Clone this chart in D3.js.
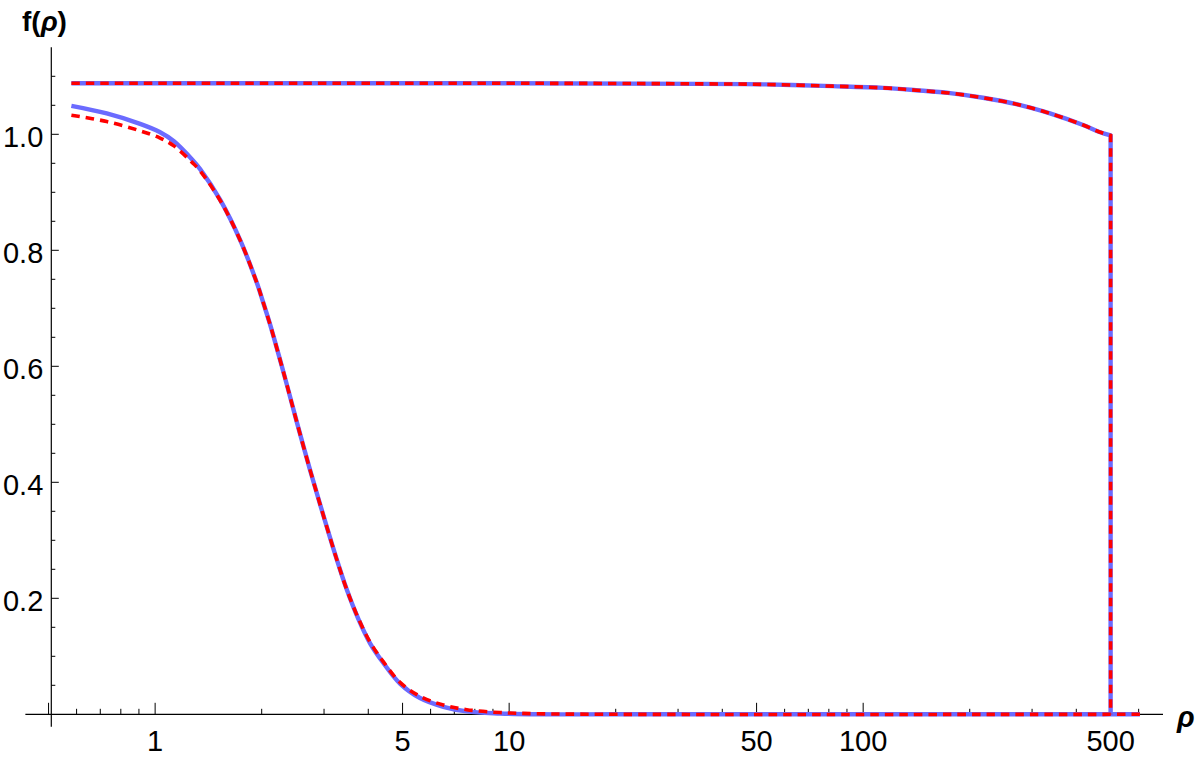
<!DOCTYPE html>
<html>
<head>
<meta charset="utf-8">
<script src="https://cdn.jsdelivr.net/npm/d3@7"></script>
<style>
  html, body { margin: 0; padding: 0; background: #fff; }
  svg { display: block; }
  text { font-family: "Liberation Sans", Arial, sans-serif; fill: #000; }
</style>
</head>
<body>
<script>
// ---------------- data ----------------
const rhoLower   = [0.58, 0.73, 0.907, 1.03, 1.13, 1.27, 1.34, 1.53, 1.74, 1.94, 2.02, 2.11, 2.161, 2.33, 2.51, 2.74, 2.98, 3.247, 3.478, 3.752, 4.051, 4.419, 4.917, 5.6, 6.52, 7.59, 9.42, 12, 20, 605];
const blueLower  = [1.049, 1.036, 1.018, 1.004, 0.988, 0.957, 0.940, 0.886, 0.817, 0.743, 0.710, 0.673, 0.651, 0.579, 0.505, 0.421, 0.345, 0.270, 0.215, 0.164, 0.122, 0.088, 0.053, 0.028, 0.013, 0.005, 0.0015, 0.0, 0.0, 0.0];
const redLower   = [1.033, 1.022, 1.006, 0.994, 0.980, 0.952, 0.937, 0.885, 0.817, 0.743, 0.710, 0.673, 0.651, 0.579, 0.505, 0.421, 0.345, 0.270, 0.215, 0.165, 0.124, 0.090, 0.055, 0.031, 0.016, 0.008, 0.003, 0.001, 0.0, 0.0];

const rhoUpper   = [0.58, 10, 35, 53, 82, 114, 141, 176, 218, 271, 337, 418, 465, 500];
const blueUpper  = [1.088, 1.088, 1.087, 1.086, 1.083, 1.080, 1.076, 1.071, 1.063, 1.052, 1.036, 1.016, 1.004, 0.998];
const redUpper   = [1.088, 1.088, 1.087, 1.086, 1.083, 1.080, 1.076, 1.071, 1.063, 1.052, 1.036, 1.016, 1.004, 0.998];
const rhoDrop    = [500, 500];
const fDrop      = [0.998, 0.0];

const xMajorTicks  = [0.5, 1, 5, 10, 50, 100, 500];
const xTickLabels  = ["", "1", "5", "10", "50", "100", "500"];
const xMinorTicks  = [0.6, 0.7, 0.8, 0.9, 2, 3, 4, 6, 7, 8, 9, 20, 30, 40, 60, 70, 80, 90, 200, 300, 400, 600];
const yMajorTicks  = [0.2, 0.4, 0.6, 0.8, 1.0];
const yTickLabels  = ["0.2", "0.4", "0.6", "0.8", "1.0"];
const yMinorTicks  = [0.05, 0.1, 0.15, 0.25, 0.3, 0.35, 0.45, 0.5, 0.55, 0.65, 0.7, 0.75, 0.85, 0.9, 0.95, 1.05, 1.1];

// ---------------- layout ----------------
const W = 1200, H = 758;
const svg = d3.select("body").append("svg").attr("width", W).attr("height", H);
svg.append("rect").attr("width", W).attr("height", H).attr("fill", "#fff");

const x = d3.scaleLog().domain([0.509, 703]).range([51.3, 1163]);
const y = d3.scaleLinear().domain([0, 1.15]).range([714.3, 47.3]);

const xAxisExtent = [0.43, 703];
const yAxisExtent = [-0.0215, 1.15];

// axes lines
svg.append("line")
  .attr("x1", x(xAxisExtent[0])).attr("x2", x(xAxisExtent[1]))
  .attr("y1", y(0)).attr("y2", y(0))
  .attr("stroke", "#000").attr("stroke-width", 1.2);
svg.append("line")
  .attr("x1", x(0.509)).attr("x2", x(0.509))
  .attr("y1", y(yAxisExtent[0])).attr("y2", y(yAxisExtent[1]))
  .attr("stroke", "#000").attr("stroke-width", 1.2);

// x ticks
const gx = svg.append("g");
gx.selectAll("line.maj").data(xMajorTicks).join("line")
  .attr("x1", d => x(d)).attr("x2", d => x(d))
  .attr("y1", y(0)).attr("y2", y(0) - 11.5)
  .attr("stroke", "#000").attr("stroke-width", 1);
gx.selectAll("line.min").data(xMinorTicks).join("line")
  .attr("class", "min")
  .attr("x1", d => x(d)).attr("x2", d => x(d))
  .attr("y1", y(0)).attr("y2", y(0) - 5.5)
  .attr("stroke", "#000").attr("stroke-width", 1);
gx.selectAll("text").data(xMajorTicks).join("text")
  .attr("x", d => x(d)).attr("y", y(0) + 37)
  .attr("text-anchor", "middle")
  .style("font-size", "29px")
  .text((d, i) => xTickLabels[i]);

// y ticks
const gy = svg.append("g");
gy.selectAll("line.maj").data(yMajorTicks).join("line")
  .attr("x1", x(0.509)).attr("x2", x(0.509) + 7.5)
  .attr("y1", d => y(d)).attr("y2", d => y(d))
  .attr("stroke", "#000").attr("stroke-width", 1);
gy.selectAll("line.min").data(yMinorTicks).join("line")
  .attr("class", "min")
  .attr("x1", x(0.509)).attr("x2", x(0.509) + 4)
  .attr("y1", d => y(d)).attr("y2", d => y(d))
  .attr("stroke", "#000").attr("stroke-width", 1);
gy.selectAll("text").data(yMajorTicks).join("text")
  .attr("x", x(0.509) - 8).attr("y", d => y(d) + 12.5)
  .attr("text-anchor", "end")
  .style("font-size", "29px")
  .text((d, i) => yTickLabels[i]);

// axis labels
const t = svg.append("text").attr("x", 22).attr("y", 31)
  .style("font-size", "28px").style("font-weight", "bold");
t.append("tspan").text("f(");
t.append("tspan").style("font-style", "italic").text("ρ");
t.append("tspan").text(")");

svg.append("text").attr("x", 1177).attr("y", 727)
  .style("font-size", "29px").style("font-weight", "bold").style("font-style", "italic")
  .text("ρ");

// ---------------- curves ----------------
const smooth = d3.line().x(d => x(d[0])).y(d => y(d[1])).curve(d3.curveCatmullRom.alpha(0.5));
const straight = d3.line().x(d => x(d[0])).y(d => y(d[1]));

const zip = (a, b) => a.map((v, i) => [v, b[i]]);

function upperPath(vals) {
  const p1 = smooth(zip(rhoUpper, vals));
  const p2 = straight(zip(rhoDrop, fDrop)).replace(/^M/, "L");
  return p1 + p2;
}

const blue = "#6b6bff", red = "#ff0000";

svg.append("path").attr("d", smooth(zip(rhoLower, blueLower)))
  .attr("fill", "none").attr("stroke", blue).attr("stroke-width", 4.4)
  .attr("stroke-linejoin", "round");
svg.append("path").attr("d", upperPath(blueUpper))
  .attr("fill", "none").attr("stroke", blue).attr("stroke-width", 4.4)
  .attr("stroke-linejoin", "round");

svg.append("path").attr("d", smooth(zip(rhoLower, redLower)))
  .attr("fill", "none").attr("stroke", red).attr("stroke-width", 3.6)
  .attr("stroke-dasharray", "8.5,6");
svg.append("path").attr("d", upperPath(redUpper))
  .attr("fill", "none").attr("stroke", red).attr("stroke-width", 3.6)
  .attr("stroke-dasharray", "8.5,6");
</script>
</body>
</html>
